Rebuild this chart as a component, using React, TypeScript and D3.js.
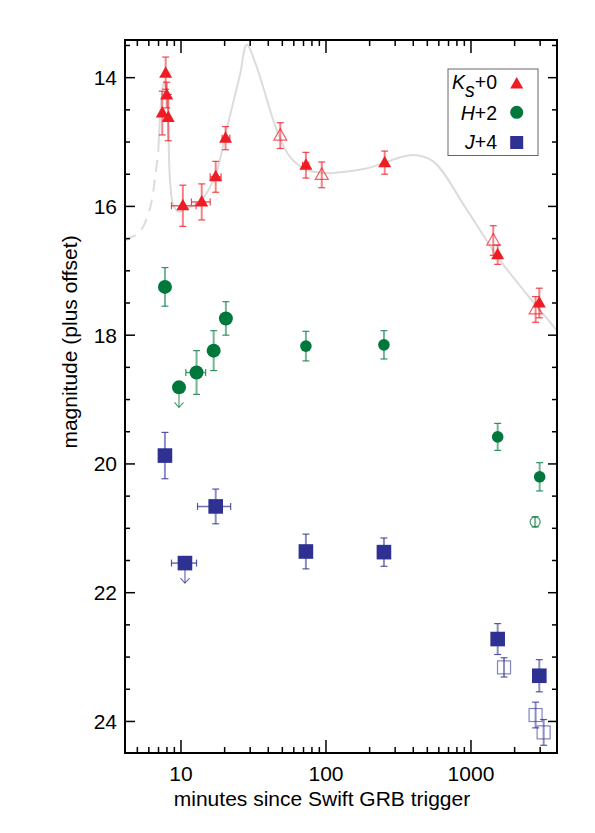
import React from 'react';
import * as d3 from 'd3';

// Ks band (offset +0)
const ksT = [7.43, 7.84, 7.97, 8.17, 10.3, 13.9, 17.35, 20.3, 72.7, 254, 1528, 2960];
const ksMag = [14.55, 13.93, 14.27, 14.62, 15.99, 15.93, 15.54, 14.94, 15.36, 15.32, 16.75, 17.5];
const ksErr = [0.34, 0.25, 0.2, 0.36, 0.32, 0.28, 0.24, 0.18, 0.2, 0.18, 0.15, 0.23];
const ksTLo = [null, null, null, null, 8.6, 11.8, 15.9, 19.2, 69, null, null, null];
const ksTHi = [null, null, null, null, 12.7, 15.9, 18.9, 21.7, 76, null, null, null];
const ksOpenT = [48.4, 93.5, 1425, 2790];
const ksOpenMag = [14.9, 15.51, 16.53, 17.6];
const ksOpenErr = [0.2, 0.2, 0.23, 0.2];

// H band (offset +2)
const hT = [7.75, 12.8, 16.8, 20.4, 72.7, 251, 1528, 2977];
const hMag = [17.25, 18.58, 18.24, 17.74, 18.17, 18.15, 19.58, 20.2];
const hErr = [0.3, 0.34, 0.31, 0.26, 0.23, 0.22, 0.21, 0.22];
const hTLo = [null, 10.8, null, null, null, null, null, null];
const hTHi = [null, 14.8, null, null, null, null, null, null];
const hBig = [true, true, true, true, false, false, false, false];
const hLimT = [9.69];
const hLimMag = [18.81];
const hOpenT = [2770];
const hOpenMag = [20.9];
const hOpenErr = [0.08];

// J band (offset +4)
const jT = [7.75, 17.35, 72.7, 251, 1528, 2960];
const jMag = [19.87, 20.66, 21.36, 21.37, 22.72, 23.29];
const jErr = [0.36, 0.27, 0.27, 0.22, 0.24, 0.25];
const jTLo = [null, 13, null, null, null, null];
const jTHi = [null, 22, null, null, null, null];
const jLimT = [10.65];
const jLimMag = [21.54];
const jLimTLo = [8.6];
const jLimTHi = [12.8];
const jOpenT = [1690, 2790, 3170];
const jOpenMag = [23.16, 23.9, 24.17];
const jOpenErr = [0.15, 0.2, 0.2];

// model light curve
const dashT = [4.11, 4.45, 5.22, 6.11, 6.62, 6.97];
const dashMag = [16.53, 16.49, 16.39, 16.03, 15.56, 15.15];
const curveT = [6.97, 7.36, 7.63, 8.0, 8.17, 8.4, 8.85, 9.58, 10.9, 13.5, 17.2, 20.6, 25.5, 28.4, 32.9, 45.7, 56.5, 73.6, 95.7, 112, 190, 398, 549, 935, 1580, 3890];
const curveMag = [15.15, 14.27, 14.06, 14.2, 14.68, 15.6, 15.98, 16.08, 16.03, 15.93, 15.53, 14.81, 13.96, 13.49, 13.8, 14.81, 15.23, 15.43, 15.48, 15.48, 15.41, 15.2, 15.3, 16.05, 16.83, 17.92];

const yMajor = [14, 16, 18, 20, 22, 24];
const xMajor = [10, 100, 1000];

const RED = '#ee1c25';
const GREEN = '#00783c';
const BLUE = '#2e3092';
const FONT = 'Liberation Sans, Arial, Helvetica, sans-serif';

const W = 595;
const H = 833;
const L = 125, R = 557, T = 40, B = 753;

const x = d3.scaleLog().domain([4.11, 3920]).range([L, R]);
const y = d3.scaleLinear().domain([13.415, 24.49]).range([T, B]);

const tri = (cx, cy, s = 1) =>
  `M${cx},${cy - 7 * s}L${cx + 6.5 * s},${cy + 4.5 * s}L${cx - 6.5 * s},${cy + 4.5 * s}Z`;

const ErrBar = ({t, m, e, lo, hi, color}) => {
  const cx = x(t), cy = y(m);
  const out = [];
  if (e) {
    const y1 = y(m - e), y2 = y(m + e);
    out.push(<line key="v" x1={cx} x2={cx} y1={y1} y2={y2} stroke={color} strokeOpacity={0.55} strokeWidth={2} />);
    out.push(<line key="c1" x1={cx - 3.5} x2={cx + 3.5} y1={y1} y2={y1} stroke={color} strokeOpacity={0.8} strokeWidth={1.2} />);
    out.push(<line key="c2" x1={cx - 3.5} x2={cx + 3.5} y1={y2} y2={y2} stroke={color} strokeOpacity={0.8} strokeWidth={1.2} />);
  }
  if (lo != null) {
    const x1 = x(lo), x2 = x(hi);
    out.push(<line key="h" x1={x1} x2={x2} y1={cy} y2={cy} stroke={color} strokeOpacity={0.7} strokeWidth={1.5} />);
    out.push(<line key="d1" x1={x1} x2={x1} y1={cy - 3.5} y2={cy + 3.5} stroke={color} strokeOpacity={0.8} strokeWidth={1.2} />);
    out.push(<line key="d2" x1={x2} x2={x2} y1={cy - 3.5} y2={cy + 3.5} stroke={color} strokeOpacity={0.8} strokeWidth={1.2} />);
  }
  return <g>{out}</g>;
};

const Arrow = ({t, m, color}) => {
  const cx = x(t), cy = y(m);
  const end = cy + 20;
  return (
    <g stroke={color} strokeOpacity={0.7} strokeWidth={1.2} fill="none">
      <line x1={cx} x2={cx} y1={cy} y2={end} />
      <path d={`M${cx - 4.5},${end - 5}L${cx},${end}L${cx + 4.5},${end - 5}`} />
    </g>
  );
};

export default function App() {
  const line = d3.line().x(d => x(d[0])).y(d => y(d[1])).curve(d3.curveCatmullRom.alpha(0.5));
  const dashPath = line(dashT.map((t, i) => [t, dashMag[i]]));
  const curvePath = line(curveT.map((t, i) => [t, curveMag[i]]));

  const xMinor = [];
  [1, 10, 100, 1000].forEach(d => {
    for (let k = 2; k <= 9; k++) {
      const v = d * k;
      if (v >= 4.11 && v <= 3920) xMinor.push(v);
    }
  });
  const yMinor = d3.range(13.5, 24.5, 0.5).filter(v => !yMajor.includes(v));

  return (
    <svg width={W} height={H} style={{position: 'absolute', left: 0, top: 0, background: '#fff'}} fontFamily={FONT}>
      <defs>
        <clipPath id="plot"><rect x={L} y={T} width={R - L} height={B - T} /></clipPath>
      </defs>

      {/* model curve */}
      <g clipPath="url(#plot)" fill="none" stroke="#dcdcdc" strokeWidth={2}>
        <path d={dashPath} strokeDasharray="12 8" />
        <path d={curvePath} />
      </g>

      {/* error bars */}
      {ksT.map((t, i) => <ErrBar key={'ke' + i} t={t} m={ksMag[i]} e={ksErr[i]} lo={ksTLo[i]} hi={ksTHi[i]} color={RED} />)}
      {ksOpenT.map((t, i) => <ErrBar key={'koe' + i} t={t} m={ksOpenMag[i]} e={ksOpenErr[i]} color={RED} />)}
      {hT.map((t, i) => <ErrBar key={'he' + i} t={t} m={hMag[i]} e={hErr[i]} lo={hTLo[i]} hi={hTHi[i]} color={GREEN} />)}
      {hOpenT.map((t, i) => <ErrBar key={'hoe' + i} t={t} m={hOpenMag[i]} e={hOpenErr[i]} color={GREEN} />)}
      {jT.map((t, i) => <ErrBar key={'je' + i} t={t} m={jMag[i]} e={jErr[i]} lo={jTLo[i]} hi={jTHi[i]} color={BLUE} />)}
      {jLimT.map((t, i) => <ErrBar key={'jle' + i} t={t} m={jLimMag[i]} lo={jLimTLo[i]} hi={jLimTHi[i]} color={BLUE} />)}
      {jOpenT.map((t, i) => <ErrBar key={'joe' + i} t={t} m={jOpenMag[i]} e={jOpenErr[i]} color={BLUE} />)}

      {/* upper limits */}
      {hLimT.map((t, i) => <Arrow key={'ha' + i} t={t} m={hLimMag[i]} color={GREEN} />)}
      {jLimT.map((t, i) => <Arrow key={'ja' + i} t={t} m={jLimMag[i]} color={BLUE} />)}

      {/* markers */}
      {ksOpenT.map((t, i) => (
        <path key={'ko' + i} d={tri(x(t), y(ksOpenMag[i]))} fill="none" stroke={RED} strokeOpacity={0.7} strokeWidth={1.2} />
      ))}
      {ksT.map((t, i) => <path key={'k' + i} d={tri(x(t), y(ksMag[i]))} fill={RED} />)}
      {hT.map((t, i) => <circle key={'h' + i} cx={x(t)} cy={y(hMag[i])} r={hBig[i] ? 7 : 5.8} fill={GREEN} />)}
      {hLimT.map((t, i) => <circle key={'hl' + i} cx={x(t)} cy={y(hLimMag[i])} r={7} fill={GREEN} />)}
      {hOpenT.map((t, i) => (
        <circle key={'ho' + i} cx={x(t)} cy={y(hOpenMag[i])} r={5} fill="none" stroke={GREEN} strokeOpacity={0.75} strokeWidth={1.2} />
      ))}
      {jOpenT.map((t, i) => (
        <rect key={'jo' + i} x={x(t) - 6.5} y={y(jOpenMag[i]) - 6.5} width={13} height={13} fill="none" stroke={BLUE} strokeOpacity={0.6} strokeWidth={1.2} />
      ))}
      {jT.map((t, i) => <rect key={'j' + i} x={x(t) - 7.3} y={y(jMag[i]) - 7.3} width={14.6} height={14.6} fill={BLUE} />)}
      {jLimT.map((t, i) => <rect key={'jl' + i} x={x(t) - 7.3} y={y(jLimMag[i]) - 7.3} width={14.6} height={14.6} fill={BLUE} />)}

      {/* legend */}
      <rect x={448} y={69} width={90} height={86.5} fill="#fff" stroke="#666" strokeWidth={1} />
      <g fontSize={19.5} textAnchor="end" fill="#000">
        <text x={497} y={89}>
          <tspan fontStyle="italic">K</tspan>
          <tspan fontStyle="italic" dy={8}>s</tspan>
          <tspan dy={-8}>+0</tspan>
        </text>
        <text x={497} y={120}><tspan fontStyle="italic">H</tspan>+2</text>
        <text x={497} y={148.5}><tspan fontStyle="italic">J</tspan>+4</text>
      </g>
      <path d={tri(516.7, 84)} fill={RED} />
      <circle cx={516.7} cy={112.3} r={6.5} fill={GREEN} />
      <rect x={510.2} y={136} width={13} height={13} fill={BLUE} />

      {/* ticks */}
      <g stroke="#000" strokeWidth={1.5}>
        {yMajor.map(v => (
          <g key={'ym' + v}>
            <line x1={L} x2={L + 10} y1={y(v)} y2={y(v)} />
            <line x1={R} x2={R - 9} y1={y(v)} y2={y(v)} />
          </g>
        ))}
        {yMinor.map(v => (
          <g key={'yn' + v}>
            <line x1={L} x2={L + 5} y1={y(v)} y2={y(v)} />
            <line x1={R} x2={R - 5} y1={y(v)} y2={y(v)} />
          </g>
        ))}
        {xMajor.map(v => (
          <g key={'xm' + v}>
            <line x1={x(v)} x2={x(v)} y1={B} y2={B - 13} />
            <line x1={x(v)} x2={x(v)} y1={T} y2={T + 13} />
          </g>
        ))}
        {xMinor.map(v => (
          <g key={'xn' + v}>
            <line x1={x(v)} x2={x(v)} y1={B} y2={B - 6} />
            <line x1={x(v)} x2={x(v)} y1={T} y2={T + 6} />
          </g>
        ))}
      </g>

      {/* frame */}
      <rect x={L} y={T} width={R - L} height={B - T} fill="none" stroke="#000" strokeWidth={2} />

      {/* tick labels */}
      <g fontSize={21} fill="#000">
        {yMajor.map(v => (
          <text key={'yl' + v} x={L - 8} y={y(v)} dy="0.36em" textAnchor="end">{v}</text>
        ))}
        {xMajor.map(v => (
          <text key={'xl' + v} x={x(v)} y={B + 28} textAnchor="middle">{v}</text>
        ))}
      </g>

      {/* axis titles */}
      <text x={322} y={806} fontSize={21} textAnchor="middle">minutes since Swift GRB trigger</text>
      <text transform={`translate(77,342) rotate(-90)`} fontSize={21} textAnchor="middle">magnitude (plus offset)</text>
    </svg>
  );
}
